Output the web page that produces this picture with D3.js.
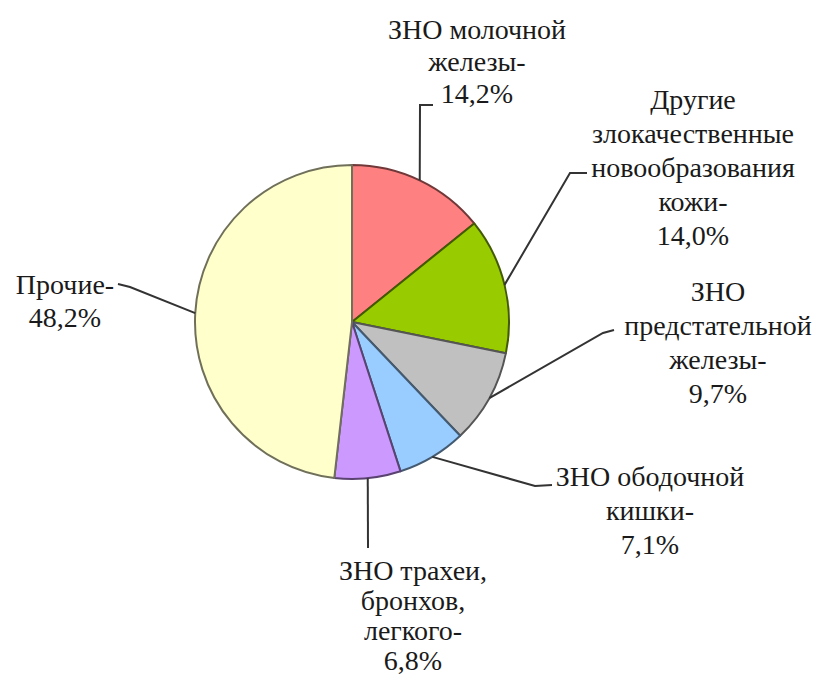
<!DOCTYPE html>
<html>
<head>
<meta charset="utf-8">
<script src="https://cdn.jsdelivr.net/npm/d3@7/dist/d3.min.js"></script>
<style>
  html, body { margin: 0; padding: 0; background: #fff; }
  svg { display: block; }
  .label { font-family: "Liberation Serif", "DejaVu Serif", "Times New Roman", serif; }
</style>
</head>
<body>
<svg id="chart" width="822" height="677"></svg>
<script>
// Structure of newly diagnosed malignant neoplasms, %
const categories = [
  "ЗНО молочной железы",
  "Другие злокачественные новообразования кожи",
  "ЗНО предстательной железы",
  "ЗНО ободочной кишки",
  "ЗНО трахеи, бронхов, легкого",
  "Прочие"
];
const values = [14.2, 14.0, 9.7, 7.1, 6.8, 48.2];
const labelLines = [
  ["ЗНО молочной", "железы-"],
  ["Другие", "злокачественные", "новообразования", "кожи-"],
  ["ЗНО", "предстательной", "железы-"],
  ["ЗНО ободочной", "кишки-"],
  ["ЗНО трахеи,", "бронхов,", "легкого-"],
  ["Прочие-"]
];
const colors = ["#FF8080", "#99CC00", "#C0C0C0", "#99CCFF", "#CC99FF", "#FFFFCC"];

// Label block placement: text centre x, first baseline y, row step, leader waypoints
const labelLayout = [
  { x: 477, y: 39,  step: 32, leader: [[420, 105], [433, 105]] },
  { x: 693, y: 109, step: 34, leader: [[570, 173], [587, 173]] },
  { x: 718, y: 301, step: 34, leader: [[603, 333], [614, 330]] },
  { x: 650, y: 486, step: 34, leader: [[535, 486], [552, 485]] },
  { x: 413, y: 580, step: 30, leader: [[368, 548]] },
  { x: 65,  y: 294, step: 33, leader: [[130, 287], [118, 284]] }
];

const cx = 352, cy = 322, radius = 157;

const ru = d3.formatLocale({ decimal: ",", thousands: " ", grouping: [3], currency: ["", ""] });
const fmt = ru.format(".1f");

const svg = d3.select("#chart");
const g = svg.append("g").attr("transform", `translate(${cx},${cy})`);

const pie = d3.pie().sort(null).value(d => d.value);
const data = categories.map((c, i) => ({ name: c, value: values[i], color: colors[i], lines: labelLines[i], layout: labelLayout[i] }));
const arcs = pie(data);

const arc = d3.arc().innerRadius(0).outerRadius(radius);
const edge = d3.arc().innerRadius(radius).outerRadius(radius);

g.selectAll("path.slice")
  .data(arcs)
  .join("path")
  .attr("class", "slice")
  .attr("d", arc)
  .attr("fill", d => d.data.color)
  .attr("stroke", d => d3.color(d.data.color).darker(2.3))
  .attr("stroke-width", 2)
  .attr("stroke-linejoin", "round");

// Leader lines from slice edge to label
const line = d3.line();
svg.selectAll("path.leader")
  .data(arcs)
  .join("path")
  .attr("class", "leader")
  .attr("d", d => {
    const [ex, ey] = edge.centroid(d);
    return line([[cx + ex, cy + ey], ...d.data.layout.leader]);
  })
  .attr("fill", "none")
  .attr("stroke", "#333")
  .attr("stroke-width", 2);

// Labels
const labels = svg.selectAll("text.label")
  .data(arcs)
  .join("text")
  .attr("class", "label")
  .attr("text-anchor", "middle")
  .attr("font-size", 28)
  .attr("fill", "#1a1a1a");

labels.each(function (d) {
  const t = d3.select(this);
  const rows = [...d.data.lines, fmt(d.data.value) + "%"];
  rows.forEach((r, k) => {
    t.append("tspan")
      .attr("x", d.data.layout.x)
      .attr("y", d.data.layout.y + k * d.data.layout.step)
      .text(r);
  });
});
</script>
</body>
</html>
